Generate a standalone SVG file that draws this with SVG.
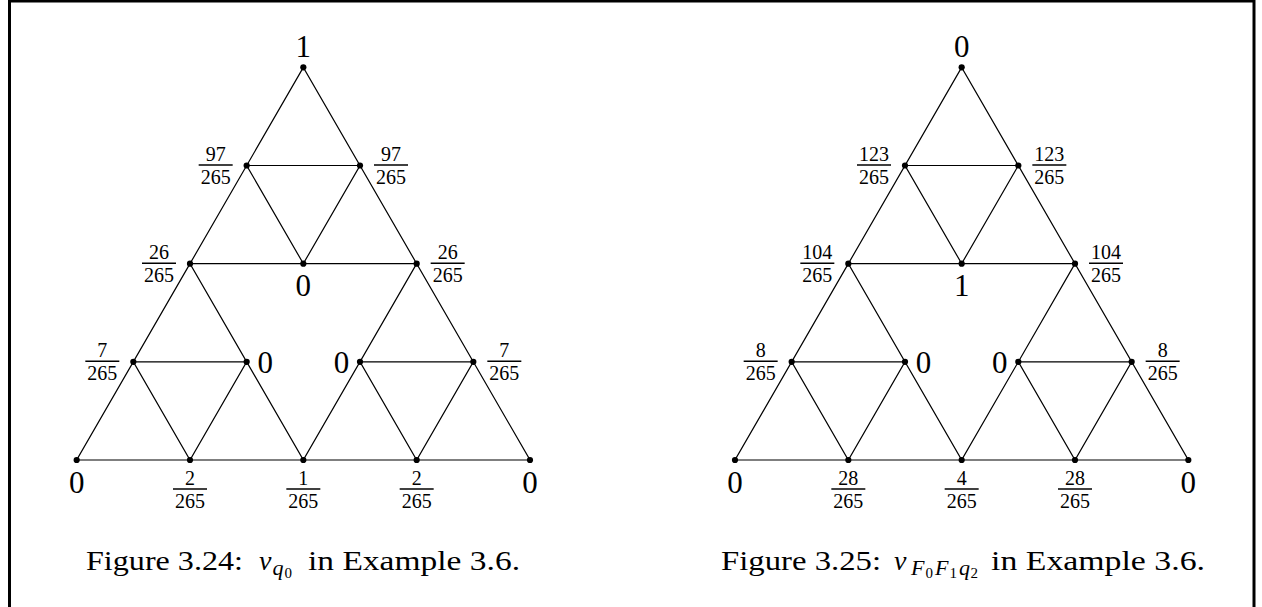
<svg xmlns="http://www.w3.org/2000/svg" xmlns:xlink="http://www.w3.org/1999/xlink" width="1262" height="607" viewBox="0 0 1262 607">
<style>
text{font-family:"Liberation Serif","Times New Roman",serif;fill:#000}
.big{font-size:31px;text-anchor:middle}
.fr{font-size:20px;text-anchor:middle}
.bar{stroke:#000;stroke-width:1.4}
.edge{fill:none;stroke:#000;stroke-width:1.2;stroke-linejoin:miter}
.dot{fill:#000}
.cap{font-size:28px}
.it{font-style:italic}
.sub{font-size:22px}
.ss{font-size:15px}
</style>
<defs>
<path id="sier" d="M303.33,67.33 L190,263.67 L416.67,263.67 Z M246.67,165.5 L360,165.5 L303.33,263.67 Z M190,263.67 L76.67,460 L303.33,460 Z M133.33,361.83 L246.67,361.83 L190,460 Z M416.67,263.67 L303.33,460 L530,460 Z M360,361.83 L473.33,361.83 L416.67,460 Z"/>
</defs>
<rect x="9.5" y="1" width="1244.5" height="640" fill="#fff" stroke="#000" stroke-width="3"/>
<g id="connectors" class="edge">
<use xlink:href="#sier"/>
<use xlink:href="#sier" transform="translate(658.33,0)"/>
</g>
<!-- Left figure -->
<g id="L_top"><circle class="dot" cx="303.33" cy="67.33" r="3.1"/><text class="big" x="303.33" y="56.7">1</text></g>
<g id="L_a1"><circle class="dot" cx="246.67" cy="165.5" r="3.1"/><text class="fr" x="215.67" y="161">97</text><line class="bar" x1="198.67" y1="165" x2="232.67" y2="165"/><text class="fr" x="215.67" y="184">265</text></g>
<g id="L_a2"><circle class="dot" cx="360" cy="165.5" r="3.1"/><text class="fr" x="391" y="161">97</text><line class="bar" x1="374" y1="165" x2="408" y2="165"/><text class="fr" x="391" y="184">265</text></g>
<g id="L_b1"><circle class="dot" cx="190" cy="263.67" r="3.1"/><text class="fr" x="159" y="259.2">26</text><line class="bar" x1="142" y1="263.2" x2="176" y2="263.2"/><text class="fr" x="159" y="282.2">265</text></g>
<g id="L_b2"><circle class="dot" cx="303.33" cy="263.67" r="3.1"/><text class="big" x="303.33" y="295.5">0</text></g>
<g id="L_b3"><circle class="dot" cx="416.67" cy="263.67" r="3.1"/><text class="fr" x="447.67" y="259.2">26</text><line class="bar" x1="430.67" y1="263.2" x2="464.67" y2="263.2"/><text class="fr" x="447.67" y="282.2">265</text></g>
<g id="L_c1"><circle class="dot" cx="133.33" cy="361.83" r="3.1"/><text class="fr" x="102.33" y="357.3">7</text><line class="bar" x1="85.33" y1="361.3" x2="119.33" y2="361.3"/><text class="fr" x="102.33" y="380.3">265</text></g>
<g id="L_c2"><circle class="dot" cx="246.67" cy="361.83" r="3.1"/><text class="big" x="265.2" y="372.5">0</text></g>
<g id="L_c3"><circle class="dot" cx="360" cy="361.83" r="3.1"/><text class="big" x="341.5" y="372.5">0</text></g>
<g id="L_c4"><circle class="dot" cx="473.33" cy="361.83" r="3.1"/><text class="fr" x="504.33" y="357.3">7</text><line class="bar" x1="487.33" y1="361.3" x2="521.33" y2="361.3"/><text class="fr" x="504.33" y="380.3">265</text></g>
<g id="L_d1"><circle class="dot" cx="76.67" cy="460" r="3.1"/><text class="big" x="76.67" y="492.5">0</text></g>
<g id="L_d2"><circle class="dot" cx="190" cy="460" r="3.1"/><text class="fr" x="190" y="485">2</text><line class="bar" x1="173" y1="489" x2="207" y2="489"/><text class="fr" x="190" y="508">265</text></g>
<g id="L_d3"><circle class="dot" cx="303.33" cy="460" r="3.1"/><text class="fr" x="303.33" y="485">1</text><line class="bar" x1="286.33" y1="489" x2="320.33" y2="489"/><text class="fr" x="303.33" y="508">265</text></g>
<g id="L_d4"><circle class="dot" cx="416.67" cy="460" r="3.1"/><text class="fr" x="416.67" y="485">2</text><line class="bar" x1="399.67" y1="489" x2="433.67" y2="489"/><text class="fr" x="416.67" y="508">265</text></g>
<g id="L_d5"><circle class="dot" cx="530" cy="460" r="3.1"/><text class="big" x="530" y="492.5">0</text></g>
<g id="L_caption">
<text class="cap" x="86" y="570" textLength="157" lengthAdjust="spacingAndGlyphs">Figure 3.24:</text>
<text class="cap it" x="259" y="570">v</text>
<text class="sub it" x="272.5" y="575">q</text>
<text class="ss" x="284.5" y="578">0</text>
<text class="cap" x="308" y="570" textLength="212" lengthAdjust="spacingAndGlyphs">in Example 3.6.</text>
</g>
<!-- Right figure -->
<g id="R_top"><circle class="dot" cx="961.67" cy="67.33" r="3.1"/><text class="big" x="961.67" y="56.7">0</text></g>
<g id="R_a1"><circle class="dot" cx="905" cy="165.5" r="3.1"/><text class="fr" x="874" y="161">123</text><line class="bar" x1="857" y1="165" x2="891" y2="165"/><text class="fr" x="874" y="184">265</text></g>
<g id="R_a2"><circle class="dot" cx="1018.33" cy="165.5" r="3.1"/><text class="fr" x="1049.33" y="161">123</text><line class="bar" x1="1032.33" y1="165" x2="1066.33" y2="165"/><text class="fr" x="1049.33" y="184">265</text></g>
<g id="R_b1"><circle class="dot" cx="848.33" cy="263.67" r="3.1"/><text class="fr" x="817.33" y="259.2">104</text><line class="bar" x1="800.33" y1="263.2" x2="834.33" y2="263.2"/><text class="fr" x="817.33" y="282.2">265</text></g>
<g id="R_b2"><circle class="dot" cx="961.67" cy="263.67" r="3.1"/><text class="big" x="961.67" y="295.5">1</text></g>
<g id="R_b3"><circle class="dot" cx="1075" cy="263.67" r="3.1"/><text class="fr" x="1106" y="259.2">104</text><line class="bar" x1="1089" y1="263.2" x2="1123" y2="263.2"/><text class="fr" x="1106" y="282.2">265</text></g>
<g id="R_c1"><circle class="dot" cx="791.67" cy="361.83" r="3.1"/><text class="fr" x="760.67" y="357.3">8</text><line class="bar" x1="743.67" y1="361.3" x2="777.67" y2="361.3"/><text class="fr" x="760.67" y="380.3">265</text></g>
<g id="R_c2"><circle class="dot" cx="905" cy="361.83" r="3.1"/><text class="big" x="923.5" y="372.5">0</text></g>
<g id="R_c3"><circle class="dot" cx="1018.33" cy="361.83" r="3.1"/><text class="big" x="999.8" y="372.5">0</text></g>
<g id="R_c4"><circle class="dot" cx="1131.67" cy="361.83" r="3.1"/><text class="fr" x="1162.67" y="357.3">8</text><line class="bar" x1="1145.67" y1="361.3" x2="1179.67" y2="361.3"/><text class="fr" x="1162.67" y="380.3">265</text></g>
<g id="R_d1"><circle class="dot" cx="735" cy="460" r="3.1"/><text class="big" x="735" y="492.5">0</text></g>
<g id="R_d2"><circle class="dot" cx="848.33" cy="460" r="3.1"/><text class="fr" x="848.33" y="485">28</text><line class="bar" x1="831.33" y1="489" x2="865.33" y2="489"/><text class="fr" x="848.33" y="508">265</text></g>
<g id="R_d3"><circle class="dot" cx="961.67" cy="460" r="3.1"/><text class="fr" x="961.67" y="485">4</text><line class="bar" x1="944.67" y1="489" x2="978.67" y2="489"/><text class="fr" x="961.67" y="508">265</text></g>
<g id="R_d4"><circle class="dot" cx="1075" cy="460" r="3.1"/><text class="fr" x="1075" y="485">28</text><line class="bar" x1="1058" y1="489" x2="1092" y2="489"/><text class="fr" x="1075" y="508">265</text></g>
<g id="R_d5"><circle class="dot" cx="1188.33" cy="460" r="3.1"/><text class="big" x="1188.33" y="492.5">0</text></g>
<g id="R_caption">
<text class="cap" x="721" y="570" textLength="160" lengthAdjust="spacingAndGlyphs">Figure 3.25:</text>
<text class="cap it" x="894" y="570">v</text>
<text class="sub it" x="911" y="575">F</text>
<text class="ss" x="925.5" y="578">0</text>
<text class="sub it" x="935" y="575">F</text>
<text class="ss" x="949.5" y="578">1</text>
<text class="sub it" x="959" y="575">q</text>
<text class="ss" x="970.5" y="578">2</text>
<text class="cap" x="991" y="570" textLength="214" lengthAdjust="spacingAndGlyphs">in Example 3.6.</text>
</g>
</svg>
